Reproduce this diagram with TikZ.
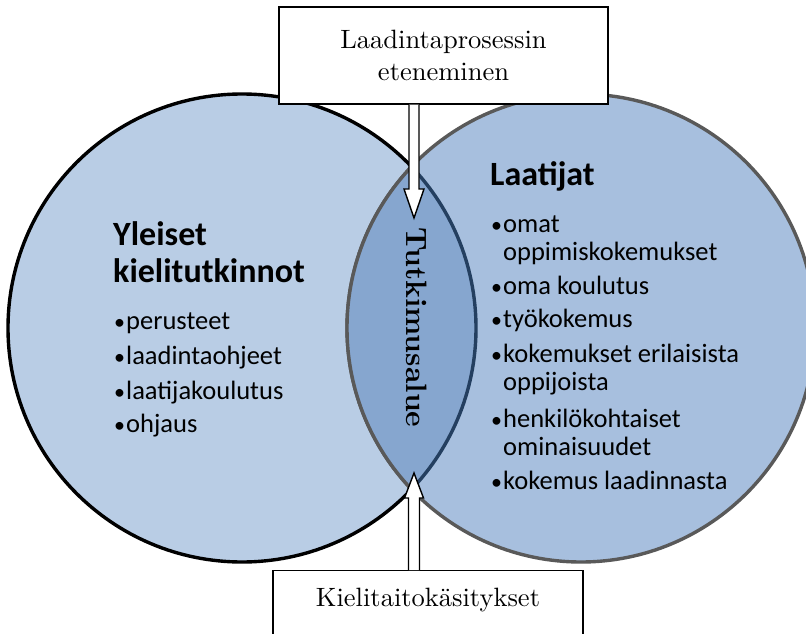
\documentclass[tikz,border=0pt]{standalone}
\usepackage{fontspec}
\setsansfont{Carlito}
\newfontfamily\boxserif{lmroman10-regular.otf}[BoldFont=lmroman10-bold.otf]
\usetikzlibrary{calc}
\definecolor{leftfill}{HTML}{B9CDE5}
\definecolor{rightfill}{HTML}{A7BFDE}
\definecolor{lensfill}{HTML}{86A6CF}
\definecolor{ringgray}{HTML}{595959}
\definecolor{lensnavy}{HTML}{243F60}
\begin{document}
\begin{tikzpicture}[x=1pt,y=-1pt,
  heading/.style={anchor=base west, inner sep=0pt,
    font=\sffamily\bfseries\fontsize{34}{40}\selectfont},
  item/.style={anchor=base west, inner sep=0pt,
    font=\sffamily\fontsize{26.5}{30}\selectfont},
  labelbox/.style={draw=black, line width=1.4pt, fill=white, inner sep=0pt,
    font=\boxserif\fontsize{26.5}{32}\selectfont, align=center},
  blockarrow/.style={draw=black, line width=1.4pt, fill=white, line join=miter},
  ring/.style={line width=3.4pt}]
% canvas
\clip (0,0) rectangle (806,634);
\fill[white] (0,0) rectangle (806,634);

% the two sets
\coordinate (cl) at (242,328);
\coordinate (cr) at (581,328);
\fill[leftfill] (cl) circle[radius=234];
\draw[ring, black] (cl) circle[radius=234];
\fill[rightfill] (cr) circle[radius=234];
\draw[ring, ringgray] (cr) circle[radius=234];
% overlap of the sets
\begin{scope}
  \clip (cl) circle[radius=234];
  \fill[lensfill] (cr) circle[radius=234];
  \draw[ring, ringgray] (cr) circle[radius=234];
\end{scope}
\begin{scope}
  \clip (cr) circle[radius=234];
  \draw[ring, lensnavy] (cl) circle[radius=234];
\end{scope}

% left set text
\newcommand{\bul}{\makebox[12pt][l]{\fontsize{22}{22}\selectfont•}}
\node[heading] (yl1) at (113,245) {Yleiset};
\node[heading] (yl2) at (113,282) {kielitutkinnot};
\node[item] (yi1) at (114,329) {\bul perusteet};
\node[item] (yi2) at (114,364) {\bul laadintaohjeet};
\node[item] (yi3) at (114,399) {\bul laatijakoulutus};
\node[item] (yi4) at (114,432) {\bul ohjaus};

% right set text
\node[heading] (la) at (490,185) {Laatijat};
\node[item] (li1) at (491,232) {\bul omat};
\node[item] (li1b) at (503,260) {oppimiskokemukset};
\node[item] (li2) at (491,294) {\bul oma koulutus};
\node[item] (li3) at (491,327) {\bul työkokemus};
\node[item] (li4) at (491,362) {\bul kokemukset erilaisista};
\node[item] (li4b) at (503,390) {oppijoista};
\node[item] (li5) at (491,427) {\bul henkilökohtaiset};
\node[item] (li5b) at (503,455) {ominaisuudet};
\node[item] (li6) at (491,489) {\bul kokemus laadinnasta};

% overlap label
\node[rotate=-90, inner sep=0pt, font=\boxserif\bfseries\fontsize{29.5}{34}\selectfont]
  (tk) at (417,327.5) {Tutkimusalue};

% boxes
\node[labelbox, minimum width=329pt, minimum height=97pt] (top) at (443.5,55.5)
  {Laadintaprosessin\\eteneminen};
\node[labelbox, anchor=north, minimum width=310pt, text height=18pt,
  text depth=70pt, inner ysep=18pt] (bot) at (428,570) {Kielitaitokäsitykset};

% block arrows into the overlap
\coordinate (tipA) at (414,218);
\coordinate (tipB) at (414,473);
\draw[blockarrow] ($(tipA |- top.south)+(-5,0)$) -- ($(tipA)+(-5,-29)$)
  -- ($(tipA)+(-10,-29)$) -- (tipA) -- ($(tipA)+(10,-29)$)
  -- ($(tipA)+(5,-29)$) -- ($(tipA |- top.south)+(5,0)$);
\draw[blockarrow] ($(tipB |- bot.north)+(-5.5,0)$) -- ($(tipB)+(-5.5,25)$)
  -- ($(tipB)+(-9.5,25)$) -- (tipB) -- ($(tipB)+(9.5,25)$)
  -- ($(tipB)+(5.5,25)$) -- ($(tipB |- bot.north)+(5.5,0)$);
\end{tikzpicture}
\end{document}
